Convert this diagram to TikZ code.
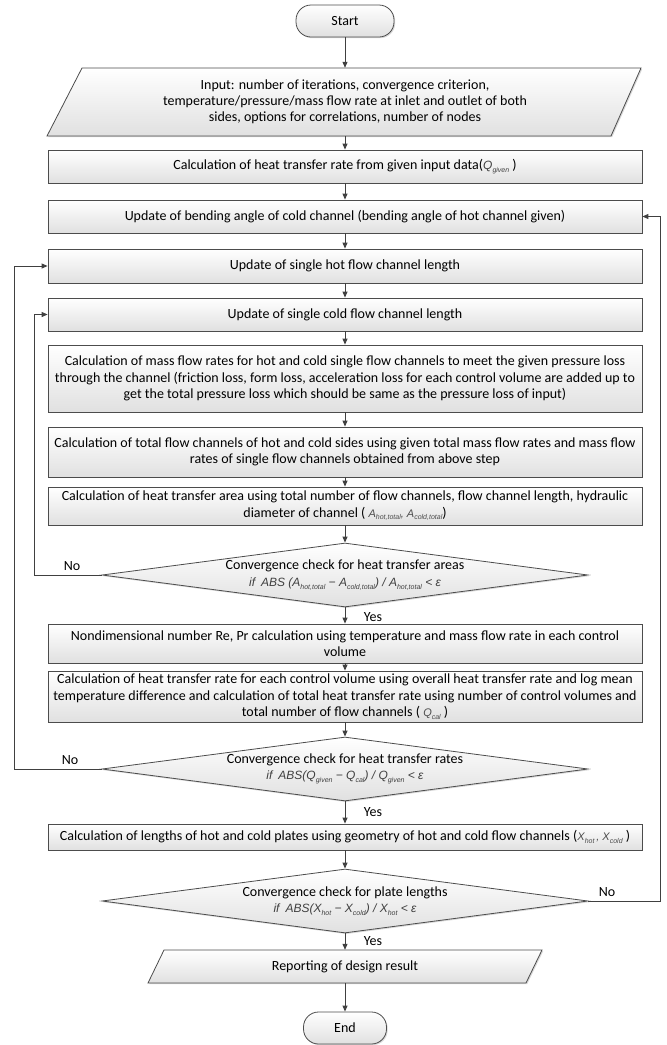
\documentclass[tikz,border=0pt]{standalone}
\usepackage{fontspec}
\setmainfont{Carlito}
\newfontfamily\fmfont{Liberation Sans}
\usetikzlibrary{shapes.geometric,arrows.meta,shadows}
\newcommand\fsub[1]{\raisebox{-0.45ex}{\fontsize{7}{8}\selectfont #1}}
\newcommand\fm[1]{{\fontsize{12}{14}\fmfont\itshape\color{black!75}#1}}
\newcommand\fmb[1]{{\fontsize{11}{14}\fmfont\itshape\color{black!70}#1}}
\tikzset{
  base/.style={draw=black!70, line width=0.8pt, top color=white, bottom color=black!12,
    drop shadow={shadow xshift=1.2pt,shadow yshift=-1.2pt,opacity=0.3},
    font=\fontsize{14}{16.5}\selectfont, align=center, inner sep=1pt},
  procbox/.style={base, rectangle, minimum width=594pt},
  term/.style={base, rectangle, rounded corners=15pt, minimum height=32pt},
  dia/.style={base, diamond, minimum width=486pt, minimum height=64pt, aspect=7.6, inner sep=0pt},
  pgram/.style={draw=black!70, line width=0.8pt, top color=white, bottom color=black!12,
    drop shadow={shadow xshift=1.2pt,shadow yshift=-1.2pt,opacity=0.3}},
  ptext/.style={font=\fontsize{14}{16}\selectfont, align=center, inner sep=0pt, minimum width=400pt},
  arr/.style={draw=black!75, line width=1pt, -{Triangle[length=6pt,width=5pt]}},
  lbl/.style={font=\fontsize{14}{16}\selectfont, inner sep=0pt}
}
\begin{document}
\begin{tikzpicture}[x=1pt,y=-1pt]
\useasboundingbox (0,0) rectangle (667,1045);
% terminals
\node[term, minimum width=98pt] (start) at (345,21) {Start};
% input parallelogram
\path[pgram] (82,68) -- (641,68) -- (611,136) -- (47,136) -- cycle;
\node[ptext, minimum height=68pt] (input) at (345,102) {Input: number of iterations, convergence criterion,\\temperature/pressure/mass flow rate at inlet and outlet of both\\sides, options for correlations, number of nodes};
\node[procbox, minimum height=33pt] (qbox) at (345,166.5) {Calculation of heat transfer rate from given input data(\fm{Q\fsub{given}} )};
\node[procbox, minimum height=33pt] (bend) at (345,216.5) {Update of bending angle of cold channel (bending angle of hot channel given)};
\node[procbox, minimum height=34pt] (hot) at (345,266) {Update of single hot flow channel length};
\node[procbox, minimum height=33pt] (cold) at (345,314.5) {Update of single cold flow channel length};
\node[procbox, minimum height=67pt] (mass) at (345,378.5) {Calculation of mass flow rates for hot and cold single flow channels to meet the given pressure loss\\through the channel (friction loss, form loss, acceleration loss for each control volume are added up to\\get the total pressure loss which should be same as the pressure loss of input)};
\node[procbox, minimum height=50pt] (total) at (345,452) {Calculation of total flow channels of hot and cold sides using given total mass flow rates and mass flow\\rates of single flow channels obtained from above step};
\node[procbox, minimum height=38pt] (area) at (345,506) {Calculation of heat transfer area using total number of flow channels, flow channel length, hydraulic\\diameter of channel ( \fmb{A\fsub{hot,total}, A\fsub{cold,total}})};
\node[dia] (d1) at (345,575) {Convergence check for heat transfer areas\\\fm{if\enspace ABS (A\fsub{hot,total} − A\fsub{cold,total}) / A\fsub{hot,total} < ε}};
\node[procbox, minimum height=39pt] (nondim) at (345,643.5) {Nondimensional number Re, Pr calculation using temperature and mass flow rate in each control\\volume};
\node[procbox, minimum height=51pt] (htrate) at (345,696.5) {Calculation of heat transfer rate for each control volume using overall heat transfer rate and log mean\\temperature difference and calculation of total heat transfer rate using number of control volumes and\\total number of flow channels ( \fmb{Q\fsub{cal}} )};
\node[dia] (d2) at (345,769) {Convergence check for heat transfer rates\\\fm{if\enspace ABS(Q\fsub{given} − Q\fsub{cal}) / Q\fsub{given} < ε}};
\node[procbox, minimum height=26pt] (lengths) at (345,837) {Calculation of lengths of hot and cold plates using geometry of hot and cold flow channels (\fmb{X\fsub{hot}\,, X\fsub{cold}} )};
\node[dia] (d3) at (345,901) {Convergence check for plate lengths\\\fm{if\enspace ABS(X\fsub{hot} − X\fsub{cold}) / X\fsub{hot} < ε}};
\path[pgram] (164,950) -- (542,950) -- (526,983) -- (148,983) -- cycle;
\node[ptext, minimum height=33pt] (report) at (345,966.5) {Reporting of design result};
\node[term, minimum width=83pt] (end) at (345,1028) {End};
% main flow
\draw[arr] (start) -- (input);
\draw[arr] (input) -- (qbox);
\draw[arr] (qbox) -- (bend);
\draw[arr] (bend) -- (hot);
\draw[arr] (hot) -- (cold);
\draw[arr] (cold) -- (mass);
\draw[arr] (mass) -- (total);
\draw[arr] (total) -- (area);
\draw[arr] (area) -- (d1);
\draw[arr] (d1) -- (nondim);
\draw[arr] (nondim) -- (htrate);
\draw[arr] (htrate) -- (d2);
\draw[arr] (d2) -- (lengths);
\draw[arr] (lengths) -- (d3);
\draw[arr] (d3) -- (report);
\draw[arr] (report) -- (end);
% loops
\coordinate (l1) at (34,0);
\coordinate (l2) at (14,0);
\coordinate (r3) at (660,0);
\draw[arr] (d1.west) -- (d1.west -| l1) |- (cold.west);
\draw[arr] (d2.west) -- (d2.west -| l2) |- (hot.west);
\draw[arr] (d3.east) -- (d3.east -| r3) |- (bend.east);
% labels
\node[lbl] (no1) at (72,566) {No};
\node[lbl] (no2) at (70,760) {No};
\node[lbl] (no3) at (607,892) {No};
\node[lbl] (yes1) at (373,617) {Yes};
\node[lbl] (yes2) at (373,812) {Yes};
\node[lbl] (yes3) at (373,941) {Yes};
\end{tikzpicture}
\end{document}
